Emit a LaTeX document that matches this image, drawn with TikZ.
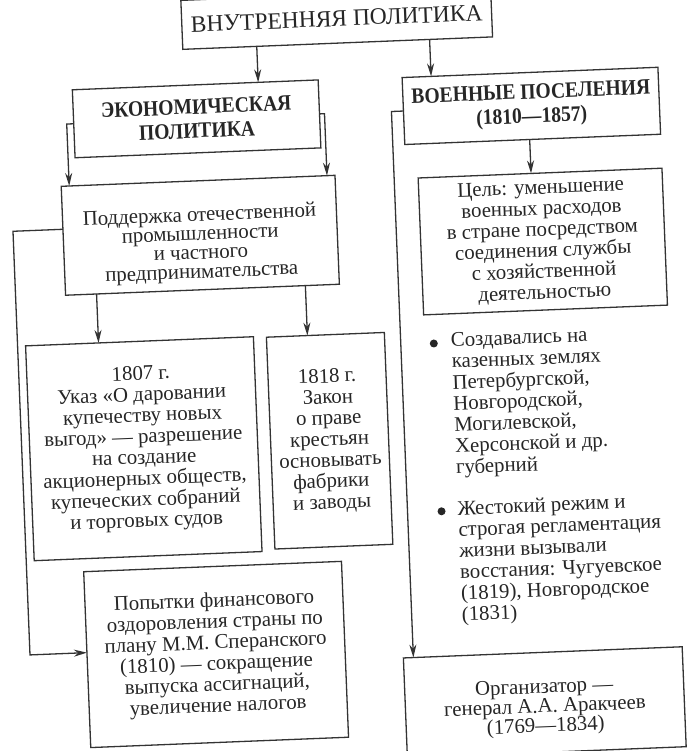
\documentclass[tikz,border=0pt]{standalone}
\usepackage{fontspec}
\setmainfont{Liberation Serif}
\newfontfamily\hdfont{Liberation Serif}[FakeStretch=0.89]
\usetikzlibrary{arrows.meta}
\definecolor{linec}{HTML}{333333}
\definecolor{txtc}{HTML}{262626}
\newcommand\toppad[1]{\rule{0pt}{#1}}
\tikzset{
  box/.style={draw=linec, line width=1.3pt, inner sep=0pt, align=center, text=txtc,
              font=\fontsize{20.8}{21}\selectfont},
  headbox/.style={box, font=\hdfont\bfseries\fontsize{22}{24}\selectfont},
  titlebox/.style={box, font=\fontsize{23.5}{26}\selectfont},
  btext/.style={inner sep=0pt, align=left, text=txtc, anchor=north west,
              font=\fontsize{20.8}{21.2}\selectfont},
  bdot/.style={circle, fill=txtc, minimum size=8pt, inner sep=0pt},
  conn/.style={draw=linec, line width=1.3pt},
  arr/.style={conn, -{Stealth[length=13pt,width=7pt]}}
}
\begin{document}
\begin{tikzpicture}[x=1pt,y=1pt]
\useasboundingbox (0,0) rectangle (695,-751);
\fill[white] (0,0) rectangle (695,-751);
\begin{scope}[rotate around={2.3:(347,-375)}, transform shape]
  % boxes
  \node[titlebox, minimum width=310, minimum height=49] (title) at (351,-18.5) {ВНУТРЕННЯЯ ПОЛИТИКА};
  \node[headbox, minimum width=246, minimum height=68] (econ) at (207,-113) {ЭКОНОМИЧЕСКАЯ\\ПОЛИТИКА};
  \node[headbox, minimum width=256, minimum height=67] (mil) at (542,-113.5) {ВОЕННЫЕ ПОСЕЛЕНИЯ\\(1810—1857)};
  \node[box, minimum width=244, minimum height=137] (goal) at (548,-249.5)
    {Цель: уменьшение\\военных расходов\\в стране посредством\\соединения службы\\с хозяйственной\\деятельностью};
  \node[box, minimum width=274, minimum height=109, font=\fontsize{20.8}{19}\selectfont] (support) at (206,-229.5)
    {\toppad{33pt}Поддержка отечественной\\промышленности\\и частного\\предпринимательства};
  \node[box, minimum width=228, minimum height=215] (b1807) at (141,-440.5)
    {1807 г.\\Указ «О даровании\\купечеству новых\\выгод» — разрешение\\на создание\\акционерных обществ,\\купеческих собраний\\и торговых судов};
  \node[box, minimum width=118, minimum height=212] (b1818) at (327,-440)
    {1818 г.\\Закон\\о праве\\крестьян\\основывать\\фабрики\\и заводы};
  \node[box, minimum width=258, minimum height=176] (fin) at (205,-649)
    {Попытки финансового\\оздоровления страны по\\плану М.М. Сперанского\\(1810) — сокращение\\выпуска ассигнаций,\\увеличение налогов};
  \node[box, minimum width=279, minimum height=100, font=\fontsize{20.8}{19.5}\selectfont] (org) at (531.5,-710)
    {\toppad{25pt}Организатор —\\генерал А.А. Аракчеев\\(1769—1834)};
  % bullets
  \node[bdot] (d1) at (435,-347) {};
  \node[btext] (t1) at (452,-337)
    {Создавались на\\казенных землях\\Петербургской,\\Новгородской,\\Могилевской,\\Херсонской и др.\\губерний};
  \node[bdot] (d2) at (436,-515) {};
  \node[btext] (t2) at (452,-505)
    {Жестокий режим и\\строгая регламентация\\жизни вызывали\\восстания: Чугуевское\\(1819), Новгородское\\(1831)};
  % connector points
  \coordinate (tE) at (270,-43);   \coordinate (tEd) at (270,-79);
  \coordinate (tM) at (443,-43);   \coordinate (tMd) at (443,-80);
  \coordinate (eL) at (77,-113);   \coordinate (eLd) at (77,-175);
  \coordinate (eR) at (335,-113);  \coordinate (eRd) at (335,-175);
  \coordinate (mG) at (539,-147);  \coordinate (mGd) at (539,-181);
  \coordinate (s7) at (100,-284);  \coordinate (s7d) at (100,-333);
  \coordinate (s8) at (309,-284);  \coordinate (s8d) at (309,-334);
  \coordinate (sL) at (69,-218);   \coordinate (oL1) at (19,-218);
  \coordinate (oL2) at (19,-642);  \coordinate (fL) at (76,-642);
  \coordinate (mL) at (402,-113.5); \coordinate (mLd) at (402,-660);
  % connectors
  \draw[arr] (tE) -- (tEd);
  \draw[arr] (tM) -- (tMd);
  \draw[arr] (econ.west) -- (eL) -- (eLd);
  \draw[arr] (econ.east) -- (eR) -- (eRd);
  \draw[arr] (mG) -- (mGd);
  \draw[arr] (s7) -- (s7d);
  \draw[arr] (s8) -- (s8d);
  \draw[arr] (sL) -- (oL1) -- (oL2) -- (fL);
  \draw[arr] (mil.west) -- (mL) -- (mLd);
\end{scope}
\end{tikzpicture}
\end{document}
